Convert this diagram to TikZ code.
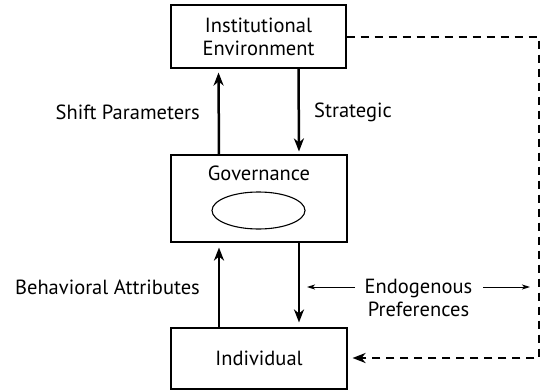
\documentclass[tikz,border=0pt]{standalone}
\usepackage{fontspec}
\setmainfont{PT Sans}
\usetikzlibrary{arrows.meta,shapes.geometric}
\begin{document}
\begin{tikzpicture}[x=1pt,y=-1pt,
  box/.style={draw,line width=1.1pt,inner sep=0pt},
  lbl/.style={font=\fontsize{20.5}{23}\selectfont,inner sep=0pt,align=center,text=black},
  flow/.style={line width=2.5pt,-{Stealth[length=13pt,width=10pt,inset=4pt]}},
  thinflow/.style={line width=1pt,-{Stealth[length=8pt,width=5pt,inset=2pt]}},
  dashline/.style={line width=2.5pt,dash pattern=on 8pt off 6pt,-{Stealth[length=13pt,width=10pt,inset=4pt]}}]
\useasboundingbox (0,0) rectangle (547,391);
\node[box,minimum width=175pt,minimum height=63pt] (inst) at (258.5,36.5) {};
\node[lbl] (instt) at (258.5,37) {Institutional\\Environment};
\node[box,minimum width=176pt,minimum height=87pt] (gov) at (259,198.5) {};
\node[lbl] (govt) at (259,173) {Governance};
\node[draw,line width=1.1pt,ellipse,minimum width=93pt,minimum height=37pt,inner sep=0pt] (ell) at (258.5,210.5) {};
\node[box,minimum width=176pt,minimum height=61pt] (ind) at (259,358.5) {};
\node[lbl] (indt) at (259,358) {Individual};
\draw[flow] ([xshift=-40pt]gov.north) -- ([xshift=-40pt,yshift=-4pt]inst.south);
\draw[flow] ([xshift=40pt]inst.south) -- ([xshift=40pt,yshift=3pt]gov.north);
\draw[flow] ([xshift=-40pt]ind.north) -- ([xshift=-40pt,yshift=-5pt]gov.south);
\draw[flow] ([xshift=40pt]gov.south) -- ([xshift=40pt,yshift=5pt]ind.north);
\node[lbl,anchor=east] (shift) at (200,112) {Shift Parameters};
\node[lbl,anchor=west] (strat) at (314,112) {Strategic};
\node[lbl,anchor=east] (behav) at (200,287) {Behavioral Attributes};
\node[lbl] (endo) at (418.5,298) {Endogenous\\Preferences};
\coordinate (c1) at (539,37);
\coordinate (c2) at (539,358);
\draw[dashline] (inst.east |- c1) -- (c1) -- (c2) -- ([xshift=5pt]ind.east |- c2);
\coordinate (e1) at (355,287);
\coordinate (e2) at (307,287);
\coordinate (e3) at (483,287);
\coordinate (e4) at (530,287);
\draw[thinflow] (e1) -- (e2);
\draw[thinflow] (e3) -- (e4);
\end{tikzpicture}
\end{document}
